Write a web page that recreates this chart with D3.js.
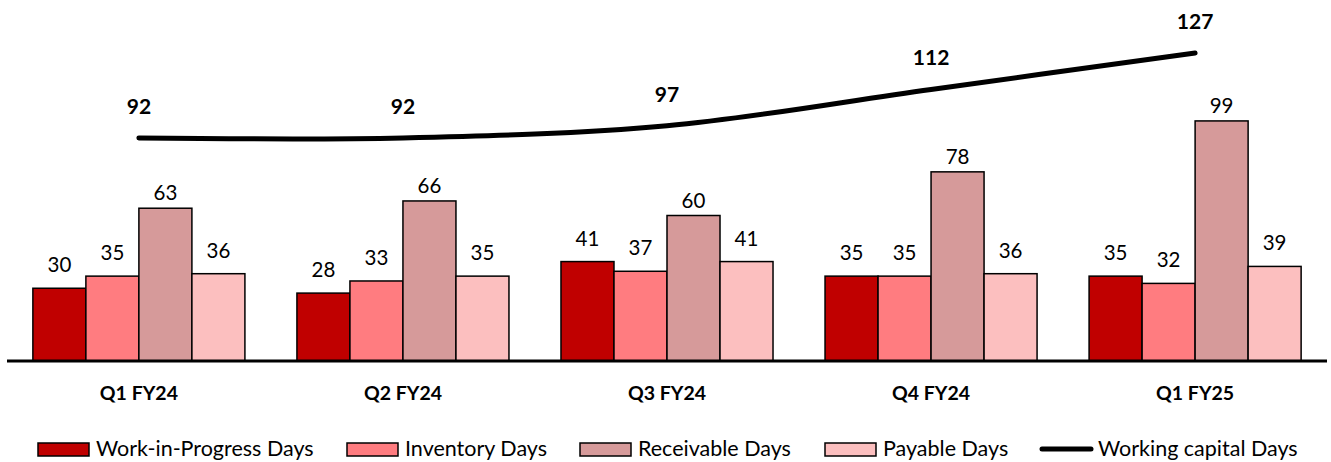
<!DOCTYPE html>
<html>
<head>
<meta charset="utf-8">
<script src="https://cdn.jsdelivr.net/npm/d3@7"></script>
<style>
  html, body { margin: 0; padding: 0; background: #fff; }
  svg { display: block; font-family: Lato, "Open Sans", sans-serif; }
</style>
</head>
<body>
<svg id="chart" width="1331" height="462"></svg>
<script>
// Quarterly working-capital components (days)
const categories = ["Q1 FY24", "Q2 FY24", "Q3 FY24", "Q4 FY24", "Q1 FY25"];
const seriesNames = ["Work-in-Progress Days", "Inventory Days", "Receivable Days", "Payable Days"];
const wipDays = [30, 28, 41, 35, 35];
const inventoryDays = [35, 33, 37, 35, 32];
const receivableDays = [63, 66, 60, 78, 99];
const payableDays = [36, 35, 41, 36, 39];
const workingCapitalName = "Working capital Days";
const workingCapitalDays = [92, 92, 97, 112, 127];

const seriesValues = [wipDays, inventoryDays, receivableDays, payableDays];
const colors = ["#C00000", "#FF7C80", "#D69A9A", "#FCBFBF"];
const labelGap = [16, 16, 8, 16];

const svg = d3.select("#chart");
const baseY = 361;

const x0 = d3.scaleBand().domain(categories).range([7, 1327]).paddingInner(0.197).paddingOuter(0.098);
const x1 = d3.scaleBand().domain(d3.range(seriesNames.length)).range([0, x0.bandwidth()]);
const y = d3.scaleLinear().domain([0, 140]).range([baseY, baseY - 140 * 2.425]);

// Bars
const groups = svg.append("g").selectAll("g")
  .data(categories)
  .join("g")
  .attr("transform", d => `translate(${x0(d)},0)`);

groups.selectAll("rect")
  .data((c, i) => seriesValues.map((vals, s) => ({ s, v: vals[i] })))
  .join("rect")
  .attr("x", d => x1(d.s))
  .attr("y", d => y(d.v))
  .attr("width", x1.bandwidth())
  .attr("height", d => y(0) - y(d.v))
  .attr("fill", d => colors[d.s])
  .attr("stroke", "#000")
  .attr("stroke-width", 1.5);

groups.selectAll("text.val")
  .data((c, i) => seriesValues.map((vals, s) => ({ s, v: vals[i] })))
  .join("text")
  .attr("class", "val")
  .attr("x", d => x1(d.s) + x1.bandwidth() / 2)
  .attr("y", d => y(d.v) - labelGap[d.s])
  .attr("text-anchor", "middle")
  .attr("font-size", 20.5)
  .attr("fill", "#000")
  .text(d => d.v);

// Category axis
const xAxis = svg.append("g")
  .attr("transform", `translate(0,${baseY})`)
  .call(d3.axisBottom(x0).tickSize(0).tickPadding(25));
xAxis.select(".domain").attr("stroke", "#000").attr("stroke-width", 3).attr("d", `M7,0H1327`);
xAxis.selectAll("text")
  .attr("font-family", "Lato, sans-serif")
  .attr("font-size", 19.5)
  .attr("font-weight", "bold")
  .attr("fill", "#000");

// Working capital line
const line = d3.line()
  .x((d, i) => x0(categories[i]) + x0.bandwidth() / 2)
  .y(d => y(d))
  .curve(d3.curveCardinal.tension(0));

svg.append("path")
  .datum(workingCapitalDays)
  .attr("d", line)
  .attr("fill", "none")
  .attr("stroke", "#000")
  .attr("stroke-width", 5)
  .attr("stroke-linecap", "round");

svg.append("g").selectAll("text")
  .data(workingCapitalDays)
  .join("text")
  .attr("x", (d, i) => x0(categories[i]) + x0.bandwidth() / 2)
  .attr("y", d => y(d) - 24)
  .attr("text-anchor", "middle")
  .attr("font-size", 21)
  .attr("font-weight", "bold")
  .attr("fill", "#000")
  .text(d => d);

// Legend
const legendX = [38, 347, 580, 825, 1040];
const legendItems = seriesNames.map((n, i) => ({ name: n, color: colors[i], type: "bar" }))
  .concat([{ name: workingCapitalName, type: "line" }]);
const legend = svg.append("g").selectAll("g")
  .data(legendItems)
  .join("g")
  .attr("transform", (d, i) => `translate(${legendX[i]},449)`);

legend.filter(d => d.type === "bar").append("rect")
  .attr("x", 0).attr("y", -6).attr("width", 51).attr("height", 13)
  .attr("fill", d => d.color).attr("stroke", "#000").attr("stroke-width", 1.5);
legend.filter(d => d.type === "line").append("line")
  .attr("x1", 2).attr("x2", 51).attr("y1", 0).attr("y2", 0)
  .attr("stroke", "#000").attr("stroke-width", 5).attr("stroke-linecap", "round");
legend.append("text")
  .attr("x", 58).attr("y", 7)
  .attr("font-size", 21.5)
  .attr("fill", "#000")
  .text(d => d.name);
</script>
</body>
</html>
